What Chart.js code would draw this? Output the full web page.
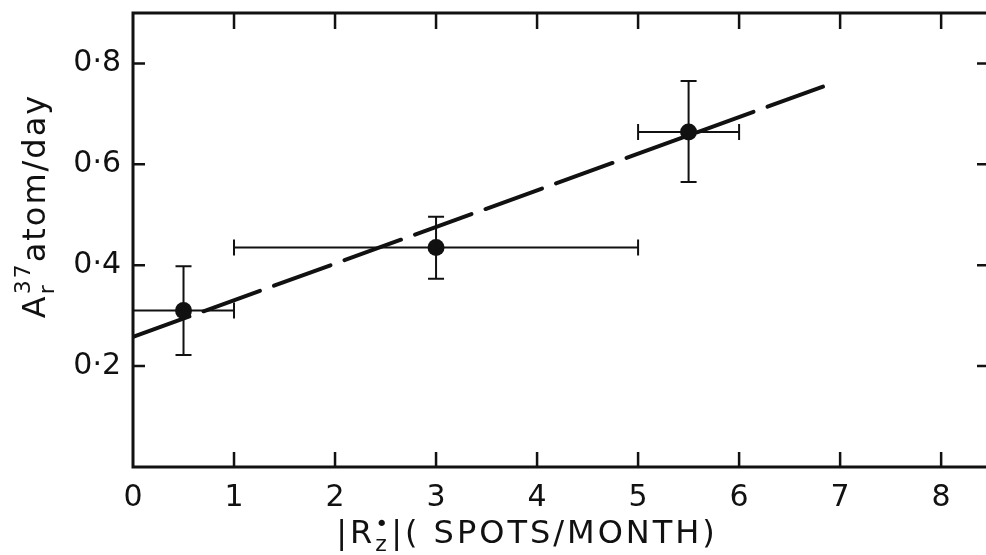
<!DOCTYPE html>
<html>
<head>
    <title>Ar37 vs sunspot rate</title>
    <style>
        html, body {
            margin: 0;
            padding: 0;
            background: #fff;
            overflow: hidden;
        }

        #chartContainer {
            width: 986px;
            height: 555px;
        }
    </style>
</head>
<body>
    <div id="chartContainer">
        <canvas id="scatterChart" width="986" height="555"></canvas>
    </div>

    <script src="https://cdn.jsdelivr.net/npm/chart.js"></script>
    <script>
        // data
        var xTicks = [0, 1, 2, 3, 4, 5, 6, 7, 8];
        var yTicks = [0.2, 0.4, 0.6, 0.8];

        var xValues = [0.5, 3, 5.5];
        var yValues = [0.31, 0.435, 0.664];
        var xLow = [0, 1, 5];
        var xHigh = [1, 5, 6];
        var yLow = [0.222, 0.373, 0.565];
        var yHigh = [0.398, 0.496, 0.765];

        var fitX = [0, 6.83];
        var fitY = [0.258, 0.754];

        var ink = '#111';
        var fontName = '"DejaVu Sans", Arial, sans-serif';

        function points(xs, ys) {
            return xs.map(function (x, i) { return { x: x, y: ys[i] }; });
        }

        // draws a run of text pieces, sub/sup pieces stacked on the same spot
        function drawRich(ctx, pieces, cx, baseY, bigSize, smallSize, spacing) {
            ctx.letterSpacing = spacing + 'px';
            var widths = [];
            var total = 0;
            pieces.forEach(function (p) {
                ctx.font = (p.small ? smallSize : bigSize) + 'px ' + fontName;
                widths.push(ctx.measureText(p.t).width);
            });
            var i;
            for (i = 0; i < pieces.length; i++) {
                if (pieces[i].stack) continue;
                var w = widths[i];
                if (i + 1 < pieces.length && pieces[i + 1].stack) w = Math.max(w, widths[i + 1]);
                total += w;
            }
            var x = cx - total / 2;
            var lastStart = x;
            for (i = 0; i < pieces.length; i++) {
                var p = pieces[i];
                ctx.font = (p.small ? smallSize : bigSize) + 'px ' + fontName;
                var start = p.stack ? lastStart : x;
                ctx.fillText(p.t, start, baseY + (p.dy || 0));
                if (!p.stack) {
                    lastStart = x;
                    var adv = widths[i];
                    if (i + 1 < pieces.length && pieces[i + 1].stack) adv = Math.max(adv, widths[i + 1]);
                    x += adv;
                }
            }
            ctx.letterSpacing = '0px';
        }

        var framePlugin = {
            id: 'frame',
            afterDatasetsDraw: function (chart) {
                var ctx = chart.ctx;
                var xs = chart.scales.x;
                var ys = chart.scales.y;
                var area = chart.chartArea;
                var edge = chart.width;

                ctx.save();
                ctx.strokeStyle = ink;
                ctx.fillStyle = ink;

                // error bars
                ctx.lineWidth = 2;
                var cap = 8;
                for (var i = 0; i < xValues.length; i++) {
                    var px = xs.getPixelForValue(xValues[i]);
                    var py = ys.getPixelForValue(yValues[i]);
                    var x0 = xs.getPixelForValue(xLow[i]);
                    var x1 = xs.getPixelForValue(xHigh[i]);
                    var y0 = ys.getPixelForValue(yLow[i]);
                    var y1 = ys.getPixelForValue(yHigh[i]);
                    ctx.beginPath();
                    ctx.moveTo(x0, py); ctx.lineTo(x1, py);
                    ctx.moveTo(x0, py - cap); ctx.lineTo(x0, py + cap);
                    ctx.moveTo(x1, py - cap); ctx.lineTo(x1, py + cap);
                    ctx.moveTo(px, y0); ctx.lineTo(px, y1);
                    ctx.moveTo(px - cap, y0); ctx.lineTo(px + cap, y0);
                    ctx.moveTo(px - cap, y1); ctx.lineTo(px + cap, y1);
                    ctx.stroke();
                }

                // box: the right side is cut off at the picture edge
                ctx.lineWidth = 3;
                ctx.beginPath();
                ctx.moveTo(edge, area.top);
                ctx.lineTo(area.left, area.top);
                ctx.lineTo(area.left, area.bottom);
                ctx.lineTo(edge, area.bottom);
                ctx.stroke();

                // inward ticks
                ctx.lineWidth = 2.5;
                ctx.beginPath();
                xTicks.forEach(function (v) {
                    if (v === 0) return;
                    var p = xs.getPixelForValue(v);
                    ctx.moveTo(p, area.bottom); ctx.lineTo(p, area.bottom - 15);
                    ctx.moveTo(p, area.top); ctx.lineTo(p, area.top + 16);
                });
                yTicks.forEach(function (v) {
                    var p = ys.getPixelForValue(v);
                    ctx.moveTo(area.left, p); ctx.lineTo(area.left + 12, p);
                    ctx.moveTo(edge, p); ctx.lineTo(edge - 9, p);
                });
                ctx.stroke();

                // axis titles
                ctx.textAlign = 'left';
                ctx.textBaseline = 'alphabetic';
                drawRich(ctx, [
                    { t: '|R' },
                    { t: '•', small: true, dy: -12 },
                    { t: 'z', small: true, dy: 8, stack: true },
                    { t: '|( SPOTS/MONTH)' }
                ], 527, 543, 32, 22, 3);

                ctx.translate(45, 206);
                ctx.rotate(-Math.PI / 2);
                drawRich(ctx, [
                    { t: 'A' },
                    { t: '37', small: true, dy: -15 },
                    { t: 'r', small: true, dy: 9, stack: true },
                    { t: 'atom/day' }
                ], 0, 0, 32, 22, 2);

                ctx.restore();
            }
        };

        var ctx = document.getElementById('scatterChart').getContext('2d');
        var scatterChart = new Chart(ctx, {
            type: 'scatter',
            data: {
                datasets: [{
                    label: 'fit',
                    data: points(fitX, fitY),
                    showLine: true,
                    borderColor: ink,
                    borderWidth: 4,
                    borderDash: [60, 15],
                    borderCapStyle: 'round',
                    pointRadius: 0,
                    order: 2
                }, {
                    label: 'measured',
                    data: points(xValues, yValues),
                    pointRadius: 8.5,
                    pointBackgroundColor: ink,
                    pointBorderColor: ink,
                    pointBorderWidth: 0,
                    order: 1
                }]
            },
            options: {
                responsive: false,
                animation: false,
                devicePixelRatio: 1,
                layout: {
                    padding: { left: 0, top: 13, right: 0, bottom: 0 }
                },
                plugins: {
                    legend: { display: false },
                    tooltip: { enabled: false }
                },
                scales: {
                    x: {
                        type: 'linear',
                        min: 0,
                        max: 8.36,
                        grid: { display: false, drawTicks: false },
                        border: { display: false },
                        afterBuildTicks: function (scale) {
                            scale.ticks = xTicks.map(function (v) { return { value: v }; });
                        },
                        afterFit: function (scale) {
                            scale.height = 88;
                            scale.paddingLeft = 0;
                            scale.paddingRight = 0;
                        },
                        ticks: {
                            color: ink,
                            padding: 13,
                            maxRotation: 0,
                            font: { family: fontName, size: 30 },
                            callback: function (v) { return String(v); }
                        }
                    },
                    y: {
                        type: 'linear',
                        min: 0,
                        max: 0.9,
                        grid: { display: false, drawTicks: false },
                        border: { display: false },
                        afterBuildTicks: function (scale) {
                            scale.ticks = yTicks.map(function (v) { return { value: v }; });
                        },
                        afterFit: function (scale) {
                            scale.width = 133;
                            scale.paddingTop = 0;
                            scale.paddingBottom = 0;
                        },
                        ticks: {
                            color: ink,
                            padding: 12,
                            font: { family: fontName, size: 30 },
                            callback: function (v) { return v.toFixed(1).replace('.', '·'); }
                        }
                    }
                }
            },
            plugins: [framePlugin]
        });
    </script>
</body>
</html>
